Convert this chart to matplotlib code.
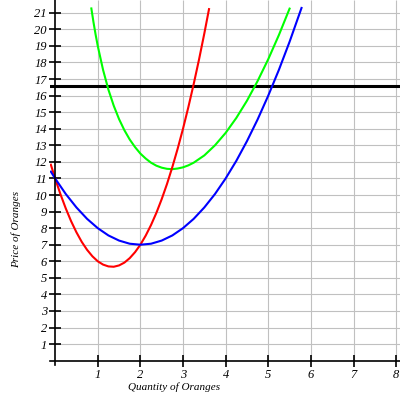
import numpy as np
import matplotlib
matplotlib.use('Agg')
import matplotlib.pyplot as plt

# values
q_blue = [-0.1, 0, 0.25, 0.5, 0.75, 1, 1.25, 1.5, 1.75, 2, 2.25, 2.5, 2.75, 3,
          3.25, 3.5, 3.75, 4, 4.25, 4.5, 4.75, 5, 5.25, 5.5, 5.78]
p_blue = [11.41, 11, 10.06, 9.25, 8.56, 8, 7.56, 7.25, 7.06, 7, 7.06, 7.25, 7.56, 8,
          8.56, 9.25, 10.06, 11, 12.06, 13.25, 14.56, 16, 17.56, 19.25, 21.29]

q_red = [-0.1, 0, 0.125, 0.25, 0.375, 0.5, 0.625, 0.75, 0.875, 1, 1.125, 1.25,
         1.375, 1.5, 1.625, 1.75, 1.875, 2, 2.125, 2.25, 2.375, 2.5, 2.625, 2.75,
         2.875, 3, 3.125, 3.25, 3.375, 3.5, 3.61]
p_red = [11.83, 11, 10.05, 9.19, 8.42, 7.75, 7.17, 6.69, 6.30, 6, 5.80, 5.69,
         5.67, 5.75, 5.92, 6.19, 6.55, 7, 7.55, 8.19, 8.92, 9.75, 10.67, 11.69,
         12.80, 14, 15.30, 16.69, 18.17, 19.75, 21.22]

q_green = [0.85, 0.9, 0.95, 1, 1.125, 1.25, 1.375, 1.5, 1.625, 1.75, 1.875, 2,
           2.125, 2.25, 2.375, 2.5, 2.625, 2.75, 2.875, 3, 3.125, 3.25, 3.5, 3.75,
           4, 4.25, 4.5, 4.75, 5, 5.25, 5.5]
p_green = [21.26, 20.43, 19.68, 19, 17.55, 16.36, 15.39, 14.58, 13.91, 13.35, 12.89,
           12.5, 12.2, 11.95, 11.77, 11.65, 11.58, 11.56, 11.6, 11.67, 11.79, 11.95,
           12.39, 13.0, 13.75, 14.65, 15.69, 16.88, 18.2, 19.66, 21.25]

price_line = 16.6
xticks = [1, 2, 3, 4, 5, 6, 7, 8]
yticks = list(range(1, 22))

tickfont = {'family': 'Liberation Serif', 'style': 'italic', 'size': 9}
labelfont = {'family': 'Liberation Serif', 'style': 'italic', 'size': 8}

fig = plt.figure(figsize=(4, 4), dpi=100)
ax = fig.add_axes([0.125, 0.0875, 0.875, 0.9125])
ax.set_xlim(-0.12, 8.09)
ax.set_ylim(-0.26, 21.77)

# grid only in the positive quadrant
ax.vlines(xticks, 0, 21.77, color='#c0c0c0', lw=0.8, zorder=1)
ax.hlines(yticks, 0, 8.09, color='#c0c0c0', lw=0.8, zorder=1)

ax.axhline(price_line, color='black', lw=2.2, zorder=3)
ax.plot(q_green, p_green, color='#00ff00', lw=1.5, zorder=4)
ax.plot(q_red, p_red, color='#ff0000', lw=1.5, zorder=4)
ax.plot(q_blue, p_blue, color='#0000ff', lw=1.5, zorder=4)

for s in ['top', 'right']:
    ax.spines[s].set_visible(False)
ax.spines['left'].set_position(('data', 0))
ax.spines['bottom'].set_position(('data', 0))
for s in ['left', 'bottom']:
    ax.spines[s].set_linewidth(1.2)
    ax.spines[s].set_zorder(5)

ax.set_xticks(xticks)
ax.set_yticks(yticks)
ax.set_xticklabels([str(t) for t in xticks], fontdict=tickfont)
ax.set_yticklabels([str(t) for t in yticks], fontdict=tickfont)
ax.tick_params(direction='inout', length=8, width=1.2, pad=2, color='black')

fig.text(0.434, 0.031, 'Quantity of Oranges', ha='center', va='center', **labelfont)
fig.text(0.04, 0.427, 'Price of Oranges', ha='center', va='center',
         rotation=90, **labelfont)

fig.savefig('out.png', dpi=100)
